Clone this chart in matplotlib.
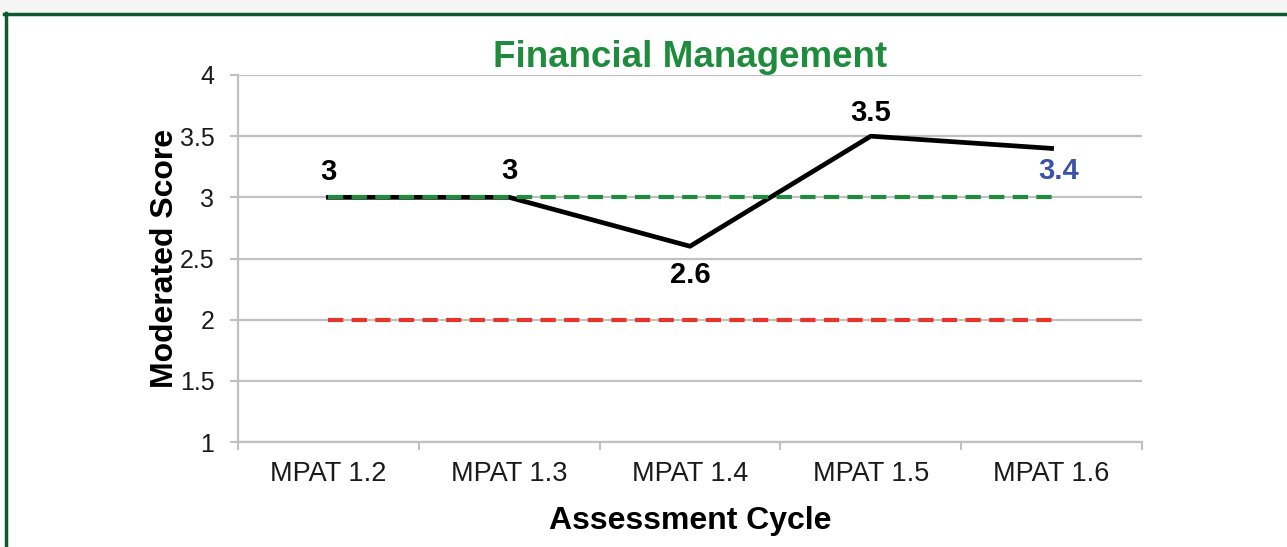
import matplotlib.pyplot as plt
from matplotlib.lines import Line2D
from matplotlib.patches import Rectangle

plt.rcParams['font.family'] = ['Liberation Sans', 'DejaVu Sans']
plt.rcParams['lines.scale_dashes'] = False

# chart data
cycles = ["MPAT 1.2", "MPAT 1.3", "MPAT 1.4", "MPAT 1.5", "MPAT 1.6"]
scores = [3, 3, 2.6, 3.5, 3.4]
target = [3, 3, 3, 3, 3]
minimum = [2, 2, 2, 2, 2]
y_ticks = [1, 1.5, 2, 2.5, 3, 3.5, 4]
y_tick_labels = ["1", "1.5", "2", "2.5", "3", "3.5", "4"]

GREEN = "#1e8c3c"
RED = "#e8352b"
BLUE = "#3b52a8"
GRID = "#c0c0c0"

fig = plt.figure(figsize=(12.87, 5.47), dpi=100)
fig.patch.set_facecolor("white")

# top strip and dark green frame
fig.patches.append(Rectangle((0, 1 - 12 / 547), 1, 12 / 547, transform=fig.transFigure,
                             facecolor="#f5f5f3", edgecolor="none", zorder=0))
fig.lines.append(Line2D([4 / 1287, 1], [1 - 13.5 / 547, 1 - 13.5 / 547], transform=fig.transFigure,
                        color="#0b5a34", linewidth=2.5))
fig.lines.append(Line2D([5.5 / 1287, 5.5 / 1287], [0, 1 - 12.5 / 547], transform=fig.transFigure,
                        color="#0b5a34", linewidth=2.5))

ax = fig.add_axes([238 / 1287, 1 - 442 / 547, 904 / 1287, 367 / 547])
x = list(range(len(cycles)))

ax.plot(x, scores, color="black", linewidth=3.4, zorder=3)
ax.plot(x, target, color=GREEN, linewidth=3.0, dashes=(11, 6), zorder=4)
ax.plot(x, minimum, color=RED, linewidth=3.0, dashes=(11, 6), zorder=4)

ax.set_xlim(-0.5, len(cycles) - 0.5)
ax.set_ylim(1, 4)
ax.set_yticks(y_ticks)
ax.set_yticklabels(y_tick_labels)
ax.set_xticks([i - 0.5 for i in range(len(cycles) + 1)])
ax.set_xticklabels([])
ax.set_xticks(x, minor=True)
ax.set_xticklabels(cycles, minor=True)
ax.tick_params(axis="x", which="minor", length=0, pad=14, labelsize=19.5, colors="#1a1a1a")
ax.tick_params(axis="x", which="major", length=6, width=1.5, color=GRID)
ax.tick_params(axis="y", length=6, width=1.5, color=GRID, pad=11, labelsize=18, labelcolor="#1a1a1a")

ax.grid(axis="y", color=GRID, linewidth=1.6, zorder=1)
ax.set_axisbelow(True)
for s in ["top", "right"]:
    ax.spines[s].set_visible(False)
for s in ["left", "bottom"]:
    ax.spines[s].set_color(GRID)
    ax.spines[s].set_linewidth(1.6)

# data labels
offsets = [(0, 18), (0, 19), (0, -21), (0, 17), (5, -16)]
colors = ["black", "black", "black", "black", BLUE]
for i, v in enumerate(scores):
    ax.annotate(f"{v:g}", (x[i], v), xytext=offsets[i], textcoords="offset points",
                ha="center", va="center", fontsize=21, fontweight="bold", color=colors[i])

ax.set_title("Financial Management", color=GREEN, fontsize=26.5, fontweight="bold", pad=1)
ax.set_ylabel("Moderated Score", fontsize=23, fontweight="bold", labelpad=0)
ax.set_xlabel("Assessment Cycle", fontsize=23, fontweight="bold", labelpad=13)

fig.savefig("out.png", dpi=100)
